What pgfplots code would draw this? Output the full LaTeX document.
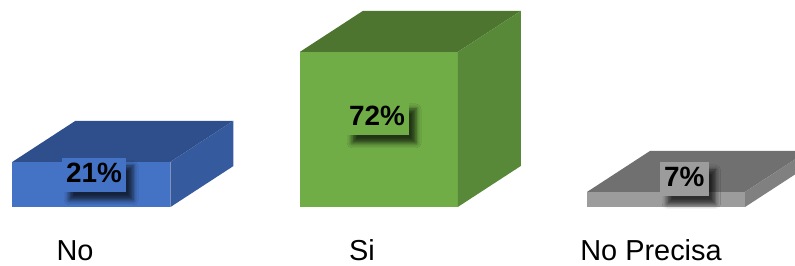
\documentclass[border=0pt]{standalone}
\usepackage{fontspec}
\setmainfont{Liberation Sans}
\usepackage{pgfplots}
\pgfplotsset{compat=1.18}
\usetikzlibrary{shadows.blur}

\definecolor{bFront}{RGB}{68,114,196}
\definecolor{bTop}{RGB}{46,79,140}
\definecolor{bSide}{RGB}{53,90,158}
\definecolor{gFront}{RGB}{112,173,71}
\definecolor{gTop}{RGB}{77,117,48}
\definecolor{gSide}{RGB}{88,137,56}
\definecolor{kFront}{RGB}{156,156,156}
\definecolor{kTop}{RGB}{112,112,112}
\definecolor{kSide}{RGB}{128,128,128}

% half bar width, depth offsets (axis units)
\def\hw{0.275}
\def\ddx{0.2193}
\def\ddy{19.04}

% \cube{x}{value}{front}{top}{side}
\newcommand{\cube}[5]{%
  \pgfmathsetmacro\xl{#1-\hw}%
  \pgfmathsetmacro\xr{#1+\hw}%
  \pgfmathsetmacro\xlb{#1-\hw+\ddx}%
  \pgfmathsetmacro\xrb{#1+\hw+\ddx}%
  \pgfmathsetmacro\yb{#2+\ddy}%
  \edef\tmp{%
    \noexpand\addplot[fill=#3, draw=none] coordinates {(\xl,0) (\xr,0) (\xr,#2) (\xl,#2)} -- cycle;
    \noexpand\addplot[fill=#4, draw=none] coordinates {(\xl,#2) (\xr,#2) (\xrb,\yb) (\xlb,\yb)} -- cycle;
    \noexpand\addplot[fill=#5, draw=none] coordinates {(\xr,0) (\xrb,\ddy) (\xrb,\yb) (\xr,#2)} -- cycle;
  }\tmp
}

% \vlabel{x}{y}{text}{colour}{right pad}
\newcommand{\vlabel}[5]{%
  \node[fill=#4, font=\bfseries\fontsize{28}{30}\selectfont,
        inner xsep=4bp, inner ysep=0pt, text height=25bp, text depth=9bp,
        anchor=base west,
        blur shadow={shadow xshift=7bp, shadow yshift=-8bp, shadow blur radius=5bp, shadow opacity=70}]
        at (axis cs:#1,#2) {#3\hspace{#5}};%
}

\begin{document}
\begin{tikzpicture}
\begin{axis}[
  name=ax,
  scale only axis,
  width=795bp, height=266bp,
  xmin=-0.3185, xmax=2.449,
  ymin=-27.40, ymax=96.14,
  hide y axis,
  axis x line*=bottom,
  x axis line style={draw=none},
  major tick length=0pt,
  xtick={-0.0574,0.9417,1.9478},
  xticklabels={No,Si,No Precisa},
  xticklabel style={anchor=base, yshift=6bp, font=\fontsize{29}{31}\selectfont, inner sep=0pt},
  clip=true,
]
\cube{0}{21}{bFront}{bTop}{bSide}
\cube{1}{72}{gFront}{gTop}{gSide}
\cube{2}{7}{kFront}{kTop}{kSide}

\vlabel{-0.1027}{11.15}{21\%}{bFront}{9bp}
\vlabel{0.8825}{37.62}{72\%}{gFront}{9bp}
\vlabel{1.979}{9.29}{7\%}{kFront}{10bp}
\end{axis}
\pgfresetboundingbox
\path[use as bounding box] (ax.south west) rectangle (ax.north east);
\end{tikzpicture}
\end{document}
